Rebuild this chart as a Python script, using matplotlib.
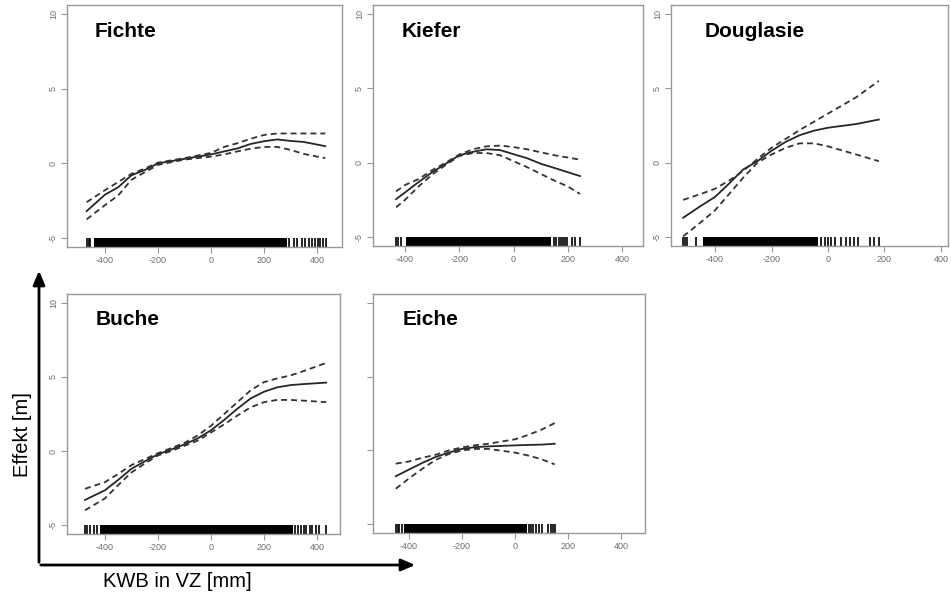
import matplotlib.pyplot as plt
from matplotlib.patches import FancyArrowPatch

plt.rcParams['font.family'] = ['Liberation Sans', 'DejaVu Sans']

W, H = 951, 595

# --- data (x = KWB in VZ [mm], y = effect [m]) ---
names = ['Fichte', 'Kiefer', 'Douglasie', 'Buche', 'Eiche']

fichte_x = [-469, -400, -350, -300, -250, -200, -100, 0, 50, 100, 150, 200, 250, 300, 350, 431]
fichte_fit = [-3.2, -2.1, -1.6, -0.8, -0.45, 0.0, 0.3, 0.6, 0.8, 1.0, 1.3, 1.48, 1.6, 1.5, 1.43, 1.15]
fichte_up = [-2.6, -1.8, -1.25, -0.7, -0.35, 0.05, 0.35, 0.7, 1.1, 1.35, 1.65, 1.9, 2.0, 2.0, 2.0, 2.0]
fichte_lo = [-3.75, -2.8, -2.15, -1.1, -0.6, -0.1, 0.25, 0.45, 0.6, 0.8, 0.98, 1.1, 1.1, 0.9, 0.63, 0.35]

kiefer_x = [-433, -400, -350, -300, -250, -200, -150, -100, -50, 0, 50, 100, 150, 200, 245]
kiefer_fit = [-2.45, -2.0, -1.3, -0.64, -0.07, 0.5, 0.73, 0.9, 0.85, 0.57, 0.3, -0.07, -0.35, -0.64, -0.9]
kiefer_up = [-1.93, -1.5, -1.1, -0.5, 0.0, 0.55, 0.9, 1.1, 1.15, 1.05, 0.9, 0.7, 0.5, 0.35, 0.2]
kiefer_lo = [-3.0, -2.5, -1.6, -0.8, -0.15, 0.45, 0.65, 0.65, 0.5, 0.1, -0.3, -0.75, -1.2, -1.6, -2.1]

doug_x = [-513, -450, -400, -350, -300, -250, -200, -150, -100, -50, 0, 100, 180]
doug_fit = [-3.7, -2.9, -2.3, -1.4, -0.45, 0.1, 0.8, 1.4, 1.85, 2.15, 2.35, 2.6, 2.9]
doug_up = [-2.5, -2.1, -1.75, -1.2, -0.55, 0.25, 1.0, 1.6, 2.2, 2.75, 3.3, 4.4, 5.5]
doug_lo = [-4.95, -4.0, -3.2, -2.1, -1.0, 0.0, 0.55, 1.0, 1.3, 1.3, 1.1, 0.55, 0.1]

buche_x = [-475, -400, -350, -300, -250, -200, -150, -100, -50, 0, 50, 100, 150, 200, 250, 300, 350, 435]
buche_fit = [-3.3, -2.65, -1.95, -1.2, -0.7, -0.22, 0.1, 0.45, 0.85, 1.4, 2.1, 2.86, 3.55, 4.0, 4.3, 4.45, 4.52, 4.62]
buche_up = [-2.55, -2.1, -1.55, -0.95, -0.55, -0.15, 0.2, 0.55, 1.05, 1.7, 2.5, 3.3, 4.1, 4.65, 4.9, 5.1, 5.4, 5.95]
buche_lo = [-4.0, -3.2, -2.3, -1.45, -0.85, -0.3, 0.0, 0.35, 0.7, 1.25, 1.8, 2.4, 2.95, 3.3, 3.45, 3.45, 3.4, 3.3]

eiche_x = [-450, -400, -350, -300, -250, -200, -150, -100, 0, 50, 100, 150]
eiche_fit = [-1.75, -1.3, -0.85, -0.45, -0.15, 0.1, 0.22, 0.27, 0.34, 0.37, 0.39, 0.45]
eiche_up = [-0.9, -0.75, -0.5, -0.3, 0.0, 0.2, 0.35, 0.45, 0.75, 1.05, 1.4, 1.85]
eiche_lo = [-2.6, -1.9, -1.25, -0.65, -0.25, 0.0, 0.1, 0.1, -0.15, -0.35, -0.6, -0.95]

# rug: dense band (start, end) plus isolated ticks
fichte_band = (-442, 286)
fichte_ticks = [-467, -461, -455, 293, 312, 324, 343, 356, 368, 381, 393, 403, 412, 422, 433]
kiefer_band = (-396, 139)
kiefer_ticks = [-433, -425, -415, 149, 158, 166, 176, 182, 191, 197, 215, 228, 244]
doug_band = (-442, -35)
doug_ticks = [-513, -506, -499, -466, -24, -12, 0, 12, 24, 47, 65, 77, 91, 106, 147, 162, 181]
buche_band = (-418, 310)
buche_ticks = [-475, -466, -458, -441, -428, 319, 329, 340, 350, 360, 372, 382, 398, 409, 434]
eiche_band = (-419, 44)
eiche_ticks = [-450, -443, -436, -428, 53, 60, 69, 79, 89, 102, 126, 135, 145, 151]

x_ticks = [-400, -200, 0, 200, 400]
y_ticks = [-5, 0, 5, 10]

panels = [
    (fichte_x, fichte_fit, fichte_up, fichte_lo, fichte_band, fichte_ticks),
    (kiefer_x, kiefer_fit, kiefer_up, kiefer_lo, kiefer_band, kiefer_ticks),
    (doug_x, doug_fit, doug_up, doug_lo, doug_band, doug_ticks),
    (buche_x, buche_fit, buche_up, buche_lo, buche_band, buche_ticks),
    (eiche_x, eiche_fit, eiche_up, eiche_lo, eiche_band, eiche_ticks),
]

# frame boxes in pixels (left, top, right, bottom) and x limits
boxes = [(67, 5, 342, 247), (373, 5, 643, 246), (671, 5, 948, 246),
         (67, 294, 340, 534), (373, 294, 645, 533)]
xlims = [(-543, 494), (-518, 477), (-556, 425), (-543, 487), (-536, 491)]
title_pos = [(95, 37), (402, 37), (705, 37), (96, 325), (403, 325)]

fig = plt.figure(figsize=(W / 100, H / 100), dpi=100)

frame_col = '#999999'
for i, (xs, fit, up, lo, band, ticks) in enumerate(panels):
    l, t, r, b = boxes[i]
    ax = fig.add_axes([l / W, 1 - b / H, (r - l) / W, (b - t) / H])
    ax.set_xlim(*xlims[i])
    ax.set_ylim(-5.6, 10.6)
    ax.plot(xs, fit, color='#262626', lw=1.3, solid_joinstyle='round')
    ax.plot(xs, up, color='#333333', lw=1.3, dashes=(3.3, 2.2))
    ax.plot(xs, lo, color='#333333', lw=1.3, dashes=(3.3, 2.2))
    tr = ax.get_xaxis_transform()
    ax.axvspan(band[0], band[1], ymin=0, ymax=0.037, color='black', lw=0)
    ax.vlines(ticks, 0, 0.037, transform=tr, color='black', lw=1.2)
    for s in ax.spines.values():
        s.set_color(frame_col)
        s.set_linewidth(1.0)
    ax.set_xticks(x_ticks)
    ax.set_yticks(y_ticks)
    ax.set_xticklabels([str(v) for v in x_ticks])
    if i == 4:
        ax.set_yticklabels([])
    else:
        ax.set_yticklabels([str(v) for v in y_ticks], rotation=90, va='center')
    ax.tick_params(axis='both', color=frame_col, labelcolor='#6e6e6e',
                   labelsize=6.5, length=4, width=0.8, pad=2.5)
    tx, ty = title_pos[i]
    fig.text(tx / W, 1 - ty / H, names[i], fontsize=15, fontweight='bold',
             va='baseline', ha='left')

# axis arrows drawn on the figure
arr_v = FancyArrowPatch((39 / W, 1 - 565 / H), (39 / W, 1 - 268 / H),
                        transform=fig.transFigure, arrowstyle='-|>,head_width=0.3,head_length=0.7',
                        mutation_scale=12, lw=2, color='black')
arr_h = FancyArrowPatch((38 / W, 1 - 565 / H), (418 / W, 1 - 565 / H),
                        transform=fig.transFigure, arrowstyle='-|>,head_width=0.3,head_length=0.7',
                        mutation_scale=12, lw=2, color='black')
fig.patches.extend([arr_v, arr_h])

fig.text(22 / W, 1 - 435 / H, 'Effekt [m]', rotation=90, fontsize=14.5,
         ha='center', va='center')
fig.text(177 / W, 1 - 587 / H, 'KWB in VZ [mm]', fontsize=14.5,
         ha='center', va='baseline')

fig.savefig('out.png', dpi=100)
